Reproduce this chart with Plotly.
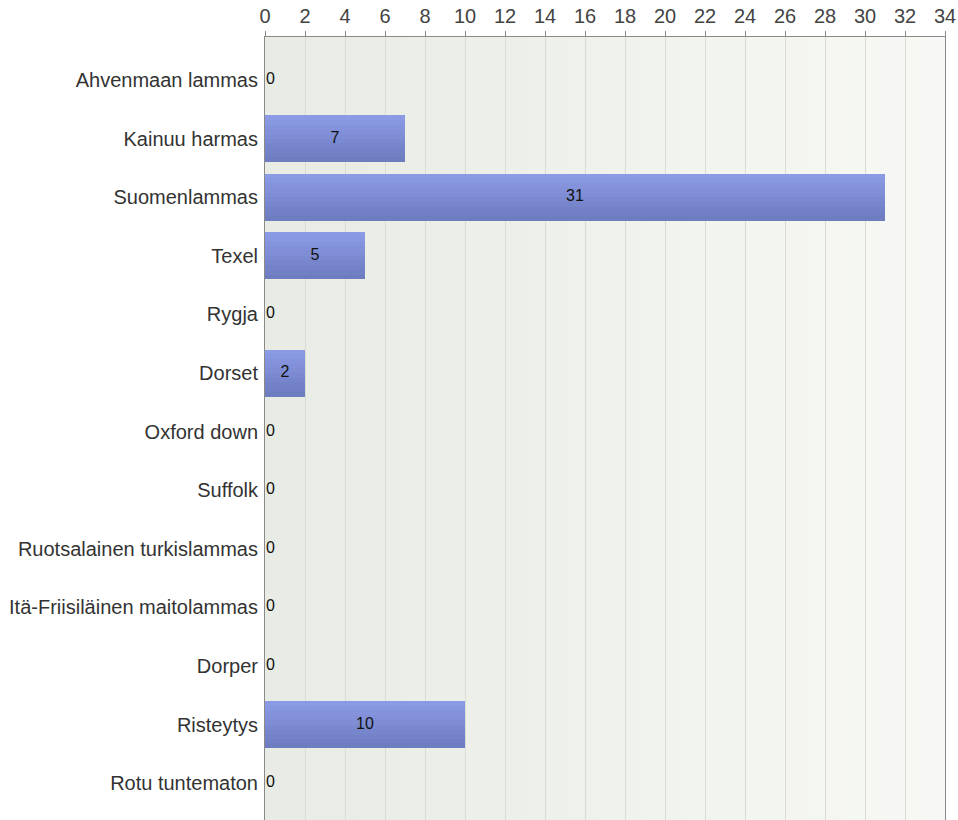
import plotly.graph_objects as go

categories = ["Ahvenmaan lammas", "Kainuu harmas", "Suomenlammas", "Texel", "Rygja",
              "Dorset", "Oxford down", "Suffolk", "Ruotsalainen turkislammas",
              "Itä-Friisiläinen maitolammas", "Dorper", "Risteytys", "Rotu tuntematon"]
values = [0, 7, 31, 5, 0, 2, 0, 0, 0, 0, 0, 10, 0]
x_ticks = list(range(0, 35, 2))

pos = list(range(len(categories)))
fig = go.Figure()

# bar with vertical gradient (slices across bar thickness)
n_slices = 10
bar_w = 0.8
top_rgb = (138, 154, 228)
bot_rgb = (110, 124, 192)
for i in range(n_slices):
    t = i / (n_slices - 1)
    c = tuple(round(top_rgb[k] + (bot_rgb[k] - top_rgb[k]) * t) for k in range(3))
    fig.add_trace(go.Bar(
        y=pos, x=values, orientation="h",
        width=bar_w / n_slices + 0.004, offset=-bar_w / 2 + i * bar_w / n_slices,
        marker=dict(color="rgb(%d,%d,%d)" % c, line=dict(width=0)),
        hoverinfo="skip", showlegend=False))

# value labels
nz = [(p, v) for p, v in zip(pos, values) if v > 0]
zz = [(p, v) for p, v in zip(pos, values) if v == 0]
fig.add_trace(go.Scatter(
    y=[p for p, v in nz], x=[v / 2 for p, v in nz], text=[str(v) for p, v in nz],
    mode="text", textposition="middle center",
    textfont=dict(family="Liberation Sans, Arial", size=16, color="#111"),
    showlegend=False, hoverinfo="skip"))
fig.add_trace(go.Scatter(
    y=[p for p, v in zz], x=[0.05 for p, v in zz], text=[str(v) for p, v in zz],
    mode="text", textposition="middle right",
    textfont=dict(family="Liberation Sans, Arial", size=16, color="#111"),
    showlegend=False, hoverinfo="skip"))

# background gradient bands
left_rgb = (232, 236, 228)
right_rgb = (247, 248, 245)
shapes = []
nb = 34
for i in range(nb):
    t = i / (nb - 1)
    c = tuple(round(left_rgb[k] + (right_rgb[k] - left_rgb[k]) * t) for k in range(3))
    shapes.append(dict(type="rect", xref="x", yref="paper", x0=i, x1=i + 1, y0=0, y1=1,
                       fillcolor="rgb(%d,%d,%d)" % c, line=dict(width=0), layer="below"))

fig.update_layout(
    width=958, height=820,
    margin=dict(l=265, r=13, t=37, b=0),
    paper_bgcolor="white", plot_bgcolor="#eff1eb",
    barmode="overlay", bargap=0,
    shapes=shapes,
    font=dict(family="Liberation Sans, Arial", color="#333"),
    xaxis=dict(side="top", range=[0, 34], tickvals=x_ticks, ticktext=[str(v) for v in x_ticks],
               showgrid=True, gridcolor="#d9dbd6", gridwidth=1,
               showline=True, linecolor="#8a8a8a", linewidth=1, mirror=True,
               ticks="outside", ticklen=5, tickcolor="#8a8a8a",
               tickfont=dict(size=20, color="#444"), zeroline=False, fixedrange=True),
    yaxis=dict(range=[12.63, -0.734], tickvals=pos, ticktext=categories,
               showgrid=False, showline=True, linecolor="#8a8a8a", linewidth=1, mirror=True,
               ticks="", ticklabelstandoff=2,
               tickfont=dict(size=20, color="#333"), zeroline=False, fixedrange=True),
)

fig.write_html("out.html", config={"displayModeBar": False},
               post_script="document.body.style.margin='0';document.body.style.overflow='hidden';")
